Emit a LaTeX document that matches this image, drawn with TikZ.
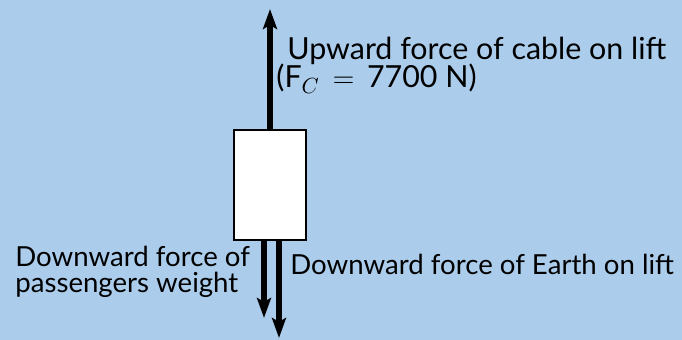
\documentclass[tikz,border=0pt]{standalone}
\usepackage{fontspec}
\setmainfont{Lato}
\usetikzlibrary{arrows.meta}
\definecolor{skyblue}{RGB}{171,205,235}

\begin{document}
\begin{tikzpicture}[x=0.5pt,y=0.5pt,
  liftbox/.style={draw,line width=1.2pt,fill=white,minimum width=36pt,minimum height=55pt,inner sep=0pt},
  force/.style={line width=2.6pt,-{Stealth[length=10pt,width=7pt,inset=2pt]}},
  lbl/.style={anchor=base west,font=\fontsize{13.8}{16}\selectfont,inner sep=0pt},
  biglbl/.style={lbl,font=\fontsize{15.2}{17}\selectfont}]
  \fill[skyblue] (0,0) rectangle (682,340);
  \useasboundingbox (0,0) rectangle (682,340);
  \node[liftbox] (lift) at (270,155) {};
  \coordinate (cabletop) at (270,331);
  \coordinate (passtip) at (264,22);
  \coordinate (earthtip) at (279,2);
  \draw[force] (lift.north) -- (cabletop);
  \draw[force] (lift.south -| passtip) -- (passtip);
  \draw[force] (lift.south -| earthtip) -- (earthtip);
  \node[biglbl] (cable) at (287,280) {Upward force of cable on lift};
  \node[biglbl] (fc) at (276,252) {(F$_C$ $\,=\,$ 7700 N)};
  \node[lbl] (pass1) at (15,73) {Downward force of};
  \node[lbl] (pass2) at (15,47) {passengers weight};
  \node[lbl] (earth) at (290,65) {Downward force of Earth on lift};
\end{tikzpicture}
\end{document}
